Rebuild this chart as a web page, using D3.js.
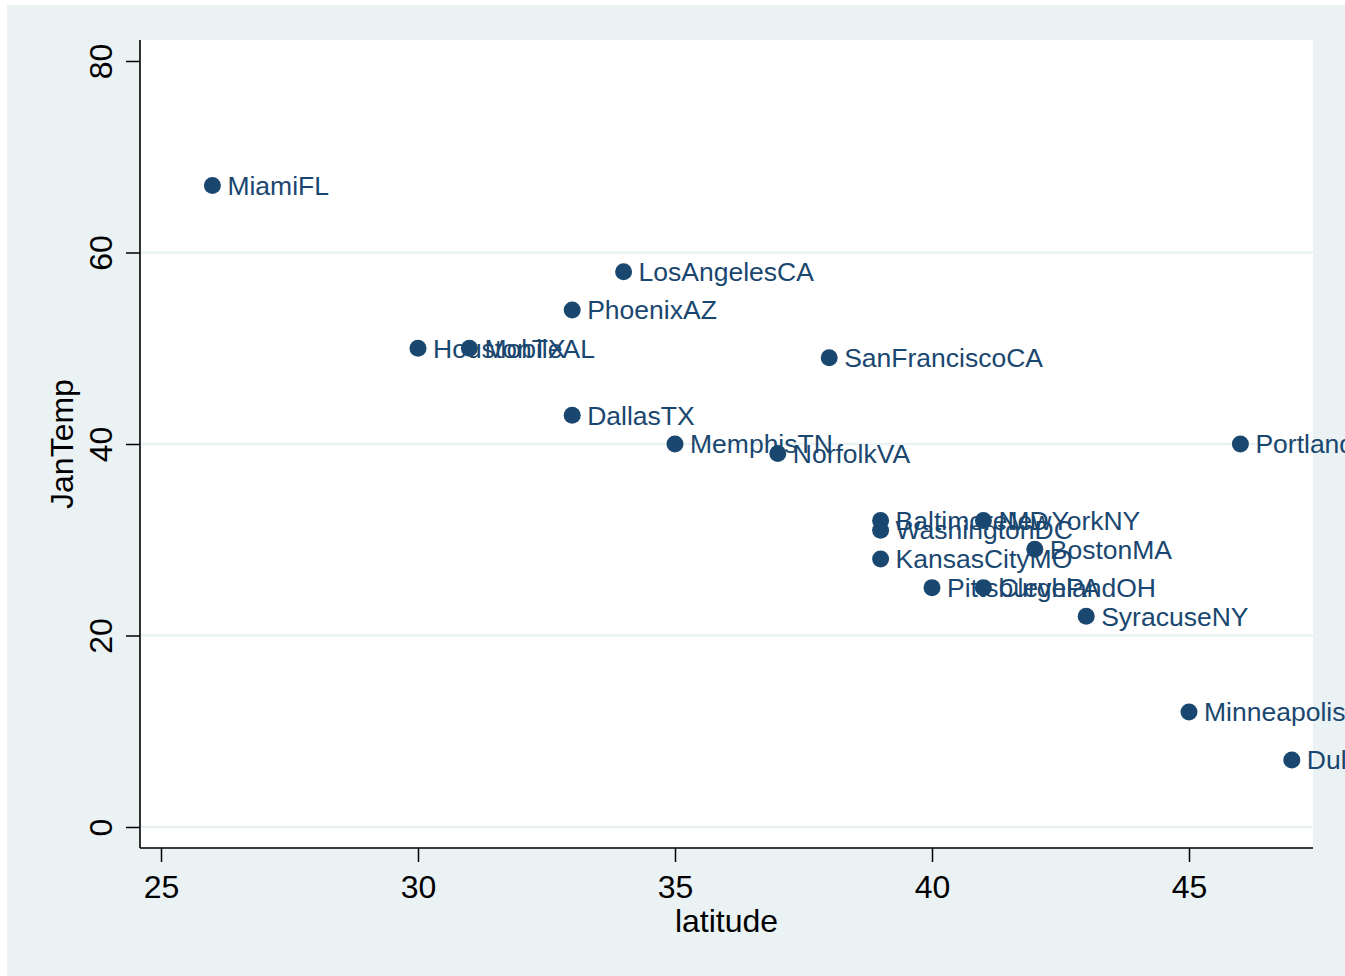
<!DOCTYPE html>
<html>
<head>
<meta charset="utf-8">
<script src="https://cdn.jsdelivr.net/npm/d3@7"></script>
<style>
  html, body { margin: 0; padding: 0; background: #ffffff; }
  svg { display: block; }
  text { font-family: "Liberation Sans", Arial, Helvetica, sans-serif; }
</style>
</head>
<body>
<svg id="chart" width="1345" height="976"></svg>
<script>
// ---- data ----
const cities = ["MiamiFL","LosAngelesCA","PhoenixAZ","HoustonTX","MobileAL","SanFranciscoCA",
  "DallasTX","MemphisTN","NorfolkVA","PortlandOR","BaltimoreMD","WashingtonDC","NewYorkNY",
  "BostonMA","KansasCityMO","PittsburghPA","ClevelandOH","SyracuseNY","MinneapolisMN","DuluthMN"];
const latitude = [26,34,33,30,31,38,33,35,37,46,39,39,41,42,39,40,41,43,45,47];
const janTemp  = [67,58,54,50,50,49,43,40,39,40,32,31,32,29,28,25,25,22,12,7];
const xTicks = [25,30,35,40,45];
const yTicks = [0,20,40,60,80];
const yGridTicks = [0,20,40,60];
const xTitle = "latitude";
const yTitle = "JanTemp";

// ---- layout ----
const svg = d3.select("#chart");
const bg = "#EAF2F3";
const navy = "#1A476F";
const plot = {left: 140, right: 1313, top: 40, bottom: 848};

svg.append("rect").attr("x", 7).attr("y", 5).attr("width", 1338).attr("height", 971).attr("fill", bg);
svg.append("rect").attr("x", plot.left).attr("y", plot.top)
  .attr("width", plot.right - plot.left).attr("height", plot.bottom - plot.top).attr("fill", "#ffffff");

const x = d3.scaleLinear().domain([25, 45]).range([161, 1189]);
const y = d3.scaleLinear().domain([0, 80]).range([827, 61]);

// gridlines
svg.append("g").selectAll("line").data(yGridTicks).join("line")
  .attr("x1", plot.left).attr("x2", plot.right)
  .attr("y1", d => y(d)).attr("y2", d => y(d))
  .attr("stroke", bg).attr("stroke-width", 2.6);

// y axis
const yAxis = svg.append("g").attr("transform", `translate(${plot.left},0)`)
  .call(d3.axisLeft(y).tickValues(yTicks).tickSize(14).tickPadding(0).tickFormat(d3.format("d")));
yAxis.select(".domain").remove();
yAxis.selectAll(".tick line").attr("stroke", "#000").attr("stroke-width", 1.5);
yAxis.selectAll(".tick text")
  .attr("font-size", 32).attr("fill", "#000")
  .attr("text-anchor", "middle")
  .attr("x", null).attr("dy", null)
  .attr("transform", "translate(-28,0) rotate(-90)");
svg.append("line").attr("x1", plot.left).attr("x2", plot.left)
  .attr("y1", plot.top).attr("y2", plot.bottom).attr("stroke", "#000").attr("stroke-width", 1.6);

// x axis
const xAxis = svg.append("g").attr("transform", `translate(0,${plot.bottom})`)
  .call(d3.axisBottom(x).tickValues(xTicks).tickSize(14).tickPadding(0).tickFormat(d3.format("d")));
xAxis.select(".domain").remove();
xAxis.selectAll(".tick line").attr("stroke", "#000").attr("stroke-width", 1.5);
xAxis.selectAll(".tick text")
  .attr("font-size", 32).attr("fill", "#000")
  .attr("y", 50).attr("dy", null);
svg.append("line").attr("x1", plot.left).attr("x2", plot.right)
  .attr("y1", plot.bottom).attr("y2", plot.bottom).attr("stroke", "#000").attr("stroke-width", 1.6);

// axis titles
svg.append("text").attr("x", (plot.left + plot.right) / 2).attr("y", 932)
  .attr("text-anchor", "middle").attr("font-size", 32).attr("fill", "#000").text(xTitle);
svg.append("text").attr("transform", `translate(73,${(plot.top + plot.bottom) / 2}) rotate(-90)`)
  .attr("text-anchor", "middle").attr("font-size", 32).attr("fill", "#000").text(yTitle);

// points + labels
const pts = cities.map((c, i) => ({name: c, lat: latitude[i], temp: janTemp[i]}));
const g = svg.append("g");
pts.forEach(d => {
  g.append("circle").attr("cx", x(d.lat)).attr("cy", y(d.temp)).attr("r", 8.5).attr("fill", navy);
  g.append("text").attr("x", x(d.lat) + 15).attr("y", y(d.temp)).attr("dy", "0.35em")
    .attr("font-size", 26.5).attr("fill", navy).text(d.name);
});
</script>
</body>
</html>
